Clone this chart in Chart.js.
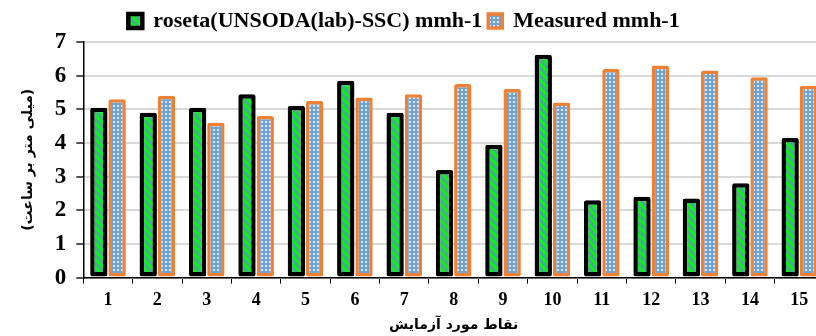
<!DOCTYPE html>
<html>
<head>
<meta charset="utf-8">
<script src="https://cdn.jsdelivr.net/npm/chart.js@4.4.0/dist/chart.umd.min.js"></script>
<style>
html,body{margin:0;padding:0;background:#fff;overflow:hidden;width:816px;height:336px;}
#wrap{width:840px;height:336px;position:relative;}
</style>
</head>
<body>
<div id="wrap"><canvas id="c" width="840" height="336"></canvas></div>
<script>
const categories = ['1','2','3','4','5','6','7','8','9','10','11','12','13','14','15'];
const rosetaValues = [5.05, 4.9, 5.05, 5.45, 5.1, 5.85, 4.9, 3.2, 3.95, 6.62, 2.3, 2.4, 2.35, 2.8, 4.15];
const measuredValues = [5.3, 5.4, 4.6, 4.8, 5.25, 5.35, 5.45, 5.75, 5.6, 5.2, 6.2, 6.3, 6.15, 5.95, 5.7];
const seriesNames = ['roseta(UNSODA(lab)-SSC) mmh-1', 'Measured mmh-1'];
const yTitle = '(میلی متر بر ساعت)';
const xTitle = 'نقاط مورد آزمایش';

function stripePattern(){
  const p = document.createElement('canvas'); p.width = 8; p.height = 8;
  const g = p.getContext('2d');
  g.fillStyle = '#0cf01c'; g.fillRect(0,0,8,8);
  g.strokeStyle = '#4aa896'; g.lineWidth = 2.5;
  g.beginPath();
  g.moveTo(-2,-2); g.lineTo(10,10);
  g.moveTo(-6,2); g.lineTo(2,10);
  g.moveTo(6,-2); g.lineTo(14,6);
  g.stroke();
  return g.createPattern(p,'repeat');
}
function dotPattern(){
  const p = document.createElement('canvas'); p.width = 4; p.height = 4;
  const g = p.getContext('2d');
  g.fillStyle = '#6fa3d6'; g.fillRect(0,0,4,4);
  g.fillStyle = '#d8e8f6'; g.fillRect(1,1,2,2);
  return g.createPattern(p,'repeat');
}

const legendShift = {
  id: 'legendShift',
  afterLayout(chart) {
    if (chart.legend) { chart.legend.left -= 18; chart.legend.right -= 18; }
  }
};

const ctx = document.getElementById('c').getContext('2d');
new Chart(ctx, {
  type: 'bar',
  data: {
    labels: categories,
    datasets: [
      { label: seriesNames[0], data: rosetaValues, backgroundColor: stripePattern(), borderColor: '#000', borderWidth: 4.5, borderRadius: 2, borderSkipped: false },
      { label: seriesNames[1], data: measuredValues, backgroundColor: dotPattern(), borderColor: '#ee8133', borderWidth: 3.5, borderRadius: 2, borderSkipped: false }
    ]
  },
  plugins: [legendShift],
  options: {
    responsive: false,
    animation: false,
    devicePixelRatio: 1,
    layout: { padding: { left: 20, right: 16, top: 4, bottom: 2 } },
    datasets: { bar: { categoryPercentage: 0.74, barPercentage: 0.95 } },
    plugins: {
      legend: {
        position: 'top',
        align: 'center',
        labels: {
          font: { family: 'Liberation Serif', size: 22, weight: 'bold' },
          color: '#000',
          boxWidth: 14, boxHeight: 14,
          padding: 6
        },
        padding: 0
      },
      tooltip: { enabled: false }
    },
    scales: {
      x: {
        grid: { drawOnChartArea: false, drawTicks: true, tickLength: 6, tickColor: '#000', offset: true },
        border: { color: '#000', width: 1.5 },
        ticks: { font: { family: 'Liberation Serif', size: 18, weight: 'bold' }, color: '#000', padding: 6 },
        title: { display: true, text: xTitle, font: { family: 'DejaVu Sans', size: 14, weight: 'bold' }, color: '#000', padding: { top: 0, bottom: 0 } }
      },
      y: {
        min: 0, max: 7,
        grid: { color: '#d9d9d9', lineWidth: 2, tickColor: '#555', tickLength: 7 },
        border: { color: '#000', width: 1.5 },
        ticks: { stepSize: 1, font: { family: 'Liberation Serif', size: 23, weight: 'bold' }, color: '#000', padding: 10 },
        title: { display: true, text: yTitle, font: { family: 'DejaVu Sans', size: 14, weight: 'bold' }, color: '#000', padding: { top: 0, bottom: 8 } }
      }
    }
  }
});
</script>
</body>
</html>
